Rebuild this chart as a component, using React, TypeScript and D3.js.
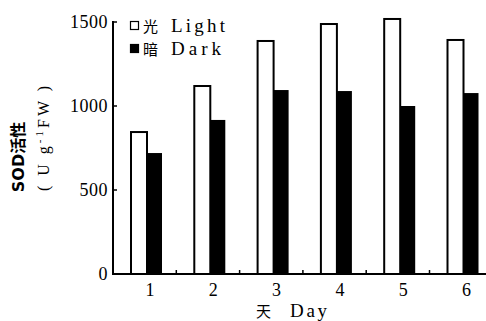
import { useEffect, useRef } from "react"
import * as d3 from "d3"

const days = ["1", "2", "3", "4", "5", "6"]
const lightValues = [845, 1119, 1387, 1488, 1518, 1393]
const darkValues = [720, 917, 1095, 1089, 1000, 1077]
const yTicks = [0, 500, 1000, 1500]

export default function App() {
    const svgRef = useRef<SVGSVGElement>(null)
    const width = 486, height = 321

    useEffect(() => {
        const svg = d3.select(svgRef.current)
        svg.selectAll("*").remove()

        const left = 113, bottom = 274
        const x = d3.scaleBand().domain(days).range([left, left + 63.3 * 6])
        const y = d3.scaleLinear().domain([0, 1500]).range([bottom, 22])
        const serif = "Liberation Serif, Times New Roman, Times, serif"

        const data = days.map((d, i) => ({ d, light: lightValues[i], dark: darkValues[i] }))

        // light bars
        svg.append("g")
            .selectAll("rect")
            .data(data)
            .join("rect")
                .attr("x", d => x(d.d)! + 18)
                .attr("y", d => y(d.light))
                .attr("width", 16)
                .attr("height", d => bottom - y(d.light))
                .attr("fill", "#fff")
                .attr("stroke", "#000")
                .attr("stroke-width", 2)

        // dark bars
        svg.append("g")
            .selectAll("rect")
            .data(data)
            .join("rect")
                .attr("x", d => x(d.d)! + 34)
                .attr("y", d => y(d.dark))
                .attr("width", 15)
                .attr("height", d => bottom - y(d.dark))
                .attr("fill", "#000")

        // y axis
        svg.append("line")
            .attr("x1", left).attr("x2", left)
            .attr("y1", bottom + 1).attr("y2", y(1500) - 1)
            .attr("stroke", "#000").attr("stroke-width", 2)
        svg.append("g")
            .selectAll("line")
            .data(yTicks.slice(1))
            .join("line")
                .attr("x1", left).attr("x2", left + 4)
                .attr("y1", d => y(d)).attr("y2", d => y(d))
                .attr("stroke", "#000").attr("stroke-width", 1.5)
        svg.append("g")
            .selectAll("text")
            .data(yTicks)
            .join("text")
                .attr("x", left - 5)
                .attr("y", d => y(d) + 6)
                .attr("text-anchor", "end")
                .attr("font-family", serif)
                .attr("font-size", 18)
                .attr("letter-spacing", 0.5)
                .text(d => d)

        // x axis
        svg.append("line")
            .attr("x1", left - 1).attr("x2", width)
            .attr("y1", bottom).attr("y2", bottom)
            .attr("stroke", "#000").attr("stroke-width", 2)
        svg.append("g")
            .selectAll("line")
            .data(days.slice(0, 5))
            .join("line")
                .attr("x1", d => x(d)! + x.step()).attr("x2", d => x(d)! + x.step())
                .attr("y1", bottom).attr("y2", bottom - 4)
                .attr("stroke", "#000").attr("stroke-width", 1.5)
        svg.append("g")
            .selectAll("text")
            .data(days)
            .join("text")
                .attr("x", d => x(d)! + 37)
                .attr("y", 296)
                .attr("text-anchor", "middle")
                .attr("font-family", serif)
                .attr("font-size", 18)
                .text(d => d)

        // x-axis label
        svg.append("text")
            .attr("x", 256)
            .attr("y", 317)
            .attr("font-family", "Noto Sans CJK SC, sans-serif")
            .attr("font-size", 15)
            .text("天")
        svg.append("text")
            .attr("x", 290)
            .attr("y", 317)
            .attr("textLength", 37)
            .attr("lengthAdjust", "spacing")
            .attr("font-family", serif)
            .attr("font-size", 19)
            .text("Day")

        // y-axis label
        svg.append("text")
            .attr("transform", "translate(24,157) rotate(-90)")
            .attr("text-anchor", "middle")
            .attr("font-family", "DejaVu Sans, Noto Sans CJK SC, sans-serif")
            .attr("font-weight", "bold")
            .attr("font-size", 16)
            .text("SOD活性")
        const unit = svg.append("text")
            .attr("transform", "translate(49,137) rotate(-90)")
            .attr("text-anchor", "middle")
            .attr("font-family", serif)
            .attr("font-size", 16)
            .attr("letter-spacing", 3)
        unit.append("tspan").text("( U g")
        unit.append("tspan").attr("dy", -6).attr("font-size", 11).text("-1")
        unit.append("tspan").attr("dy", 6).text("FW )")

        // legend
        const legend = [
            { cn: "光", en: "Light", w: 54, fill: "#fff", cy: 26 },
            { cn: "暗", en: "Dark", w: 50, fill: "#000", cy: 49 },
        ]
        const lg = svg.append("g")
        lg.selectAll("rect")
            .data(legend)
            .join("rect")
                .attr("x", 130.5)
                .attr("y", d => d.cy - 4.5)
                .attr("width", 8)
                .attr("height", 8)
                .attr("fill", d => d.fill)
                .attr("stroke", "#000")
                .attr("stroke-width", 1.2)
        lg.selectAll("text.cn")
            .data(legend)
            .join("text")
                .attr("class", "cn")
                .attr("x", 143)
                .attr("y", d => d.cy + 6)
                .attr("font-family", "Noto Sans CJK SC, sans-serif")
                .attr("font-size", 15)
                .text(d => d.cn)
        lg.selectAll("text.en")
            .data(legend)
            .join("text")
                .attr("class", "en")
                .attr("x", 171)
                .attr("y", d => d.cy + 6)
                .attr("textLength", d => d.w)
                .attr("lengthAdjust", "spacing")
                .attr("font-family", serif)
                .attr("font-size", 19)
                .text(d => d.en)
    }, [])

    return (
        <svg ref={svgRef} width={width} height={height}
            style={{ position: "absolute", left: 0, top: 0, background: "#fff" }}></svg>
    )
}
